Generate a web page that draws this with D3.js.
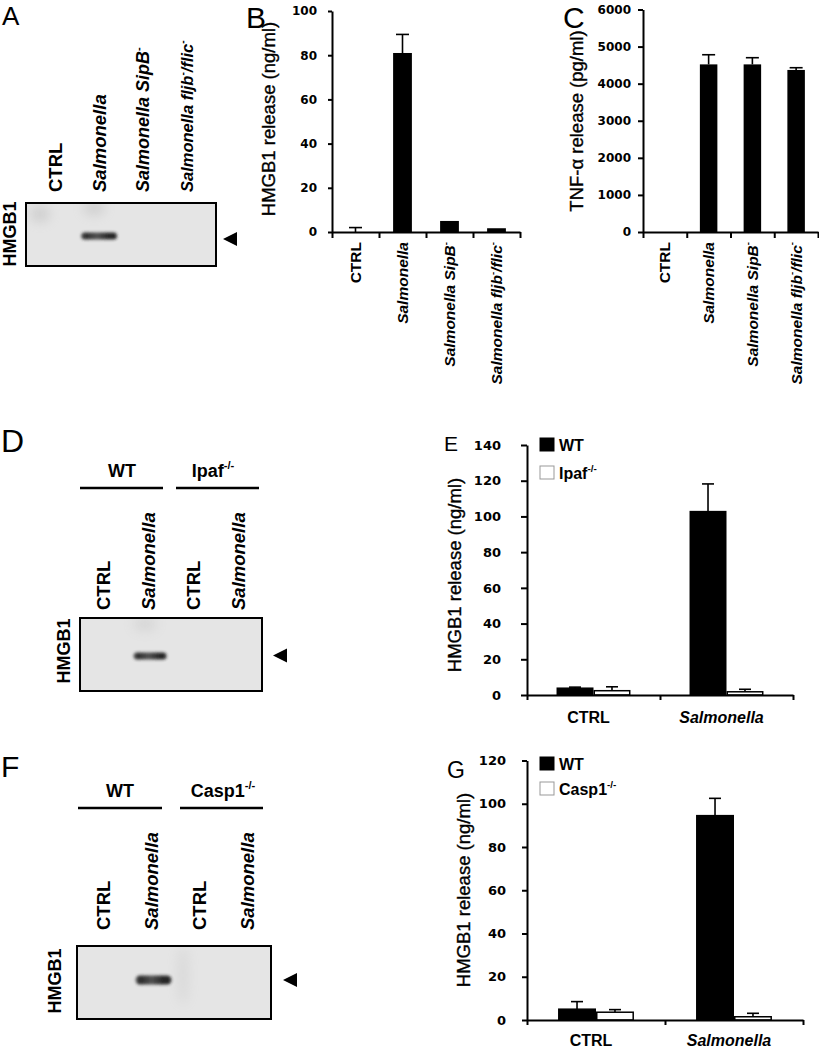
<!DOCTYPE html>
<html><head><meta charset="utf-8">
<script src="https://cdn.jsdelivr.net/npm/d3@7"></script>
<style>
body{margin:0;background:#fff}
svg{display:block}
text{font-family:"Liberation Sans",Arial,Helvetica,sans-serif}
g.tick text{font-family:"DejaVu Sans",Verdana,sans-serif}
</style>
</head><body>
<svg id="fig" width="819" height="1050"></svg>
<script>
// ---------------- DATA ----------------
// Panel A (western blot)
const blotALanes = ["CTRL", "<i>Salmonella</i>", "<i>Salmonella SipB</i><sup>-</sup>", "<i>Salmonella fljb</i><sup>-</sup><i>/flic</i><sup>-</sup>"];
const blotABands = [0, 1, 0, 0];
// Panel B
const bCategories = ["CTRL", "<i>Salmonella</i>", "<i>Salmonella SipB</i><sup>-</sup>", "<i>Salmonella fljb</i><sup>-</sup><i>/flic</i><sup>-</sup>"];
const bValues = [0, 81, 5, 1.7];
const bErrors = [2, 8.4, 0, 0];
const bTicks = [0, 20, 40, 60, 80, 100];
// Panel C
const cCategories = bCategories;
const cValues = [0, 4520, 4520, 4370];
const cErrors = [0, 260, 180, 60];
const cTicks = [0, 1000, 2000, 3000, 4000, 5000, 6000];
// Panel D (blot)
const blotDGroups = ["WT", "Ipaf<sup>-/-</sup>"];
const blotDLanes = ["CTRL", "<i>Salmonella</i>", "CTRL", "<i>Salmonella</i>"];
const blotDBands = [0, 1, 0, 0];
// Panel E
const eGroups = ["CTRL", "<i>Salmonella</i>"];
const eSeries = ["WT", "Ipaf<sup>-/-</sup>"];
const eWT = [3.8, 102.7];
const eWTErr = [0.6, 15.5];
const eKO = [2.4, 1.8];
const eKOErr = [2.2, 1.4];
const eTicks = [0, 20, 40, 60, 80, 100, 120, 140];
// Panel F (blot)
const blotFGroups = ["WT", "Casp1<sup>-/-</sup>"];
const blotFLanes = ["CTRL", "<i>Salmonella</i>", "CTRL", "<i>Salmonella</i>"];
const blotFBands = [0, 1, 0, 0];
// Panel G
const gGroups = ["CTRL", "<i>Salmonella</i>"];
const gSeries = ["WT", "Casp1<sup>-/-</sup>"];
const gWT = [5, 94.5];
const gWTErr = [3.5, 8];
const gKO = [3.6, 1.5];
const gKOErr = [1.2, 1.6];
const gTicks = [0, 20, 40, 60, 80, 100, 120];

// ---------------- HELPERS ----------------
const svg = d3.select("#fig");
const defs = svg.append("defs");
defs.append("filter").attr("id","blurBand").attr("x","-50%").attr("y","-100%").attr("width","200%").attr("height","300%")
  .append("feGaussianBlur").attr("stdDeviation", 1.4);
defs.append("filter").attr("id","blurSmudge").attr("x","-100%").attr("y","-100%").attr("width","300%").attr("height","300%")
  .append("feGaussianBlur").attr("stdDeviation", 6);
const grad = defs.append("linearGradient").attr("id", "bandGrad").attr("x1", "0").attr("x2", "1").attr("y1", "0").attr("y2", "0");
[[0, "#555"], [0.12, "#1a1a1a"], [0.45, "#444"], [0.8, "#111"], [1, "#222"]].forEach(s =>
  grad.append("stop").attr("offset", s[0]).attr("stop-color", s[1]));

function rich(sel, str, size) {
  const parts = str.split(/(<i>.*?<\/i>|<sup>.*?<\/sup>)/).filter(s => s.length);
  let back = 0;
  parts.forEach(p => {
    let t = p, italic = false, sup = false;
    if (p.startsWith("<i>")) { t = p.slice(3, -4); italic = true; }
    else if (p.startsWith("<sup>")) { t = p.slice(5, -6); sup = true; }
    const ts = sel.append("tspan").text(t);
    if (italic) ts.attr("font-style", "italic");
    if (sup) { ts.attr("font-size", size * 0.62).attr("dy", -size * 0.42); back += size * 0.42; }
    else if (back) { ts.attr("dy", back); back = 0; }
  });
  return sel;
}

function panelLetter(t, x, y, size) {
  svg.append("text").attr("x", x).attr("y", y).attr("font-size", size).attr("fill", "#000").text(t);
}

function yTitle(str, x, y, size) {
  const t = svg.append("text").attr("transform", `translate(${x},${y}) rotate(-90)`)
    .attr("text-anchor", "middle").attr("font-size", size).attr("fill", "#000")
    .attr("stroke", "#000").attr("stroke-width", 0.35);
  rich(t, str, size);
}

function styleAxis(g, fs) {
  g.selectAll("path.domain").attr("stroke", "#000").attr("stroke-width", 2);
  g.selectAll(".tick line").attr("stroke", "#000").attr("stroke-width", 2);
  g.selectAll(".tick text").attr("font-size", fs).attr("font-weight", "bold").attr("fill", "#000")
    .style("font-family", '"DejaVu Sans",Verdana,sans-serif');
}

function errBar(g, cx, yTop, yErr, capW) {
  g.append("line").attr("x1", cx).attr("x2", cx).attr("y1", yTop).attr("y2", yErr).attr("stroke", "#000").attr("stroke-width", 1.6);
  g.append("line").attr("x1", cx - capW / 2).attr("x2", cx + capW / 2).attr("y1", yErr).attr("y2", yErr).attr("stroke", "#000").attr("stroke-width", 1.6);
}

// single-series bar chart (B, C)
function simpleBars(o) {
  const g = svg.append("g");
  const y = d3.scaleLinear().domain(o.domain).range(o.yRange);
  const x = d3.scaleBand().domain(d3.range(o.cats.length)).range(o.xRange).paddingInner(0.6).paddingOuter(0.3);
  const bw = x.bandwidth();
  o.values.forEach((v, i) => {
    const cx = x(i) + bw / 2;
    if (o.errors[i] > 0) errBar(g, cx, y(v), y(v + o.errors[i]), 13);
  });
  g.selectAll("rect.bar").data(o.values).join("rect").attr("class", "bar")
    .attr("x", (d, i) => x(i)).attr("width", bw)
    .attr("y", d => y(d)).attr("height", d => y(0) - y(d)).attr("fill", "#000");
  const ya = g.append("g").attr("transform", `translate(${o.xRange[0]},0)`)
    .call(d3.axisLeft(y).tickValues(o.ticks).tickSize(o.tickSize).tickSizeOuter(0).tickPadding(o.tickPad).tickFormat(d3.format("d")));
  styleAxis(ya, o.tickFont);
  const xb = d3.scaleLinear().domain([0, o.cats.length]).range(o.xRange);
  const xa = g.append("g").attr("transform", `translate(0,${o.yRange[0]})`)
    .call(d3.axisBottom(xb).tickValues(d3.range(o.cats.length + 1)).tickSize(6).tickSizeOuter(0).tickFormat(""));
  styleAxis(xa, 12);
  o.cats.forEach((c, i) => {
    const cx = x(i) + bw / 2;
    const t = g.append("text").attr("transform", `translate(${cx + 5.5},${o.yRange[0] + 10}) rotate(-90)`)
      .attr("text-anchor", "end").attr("font-size", 15.5).attr("font-weight", "bold");
    rich(t, c, 15.5);
  });
}

// grouped bar chart (E, G)
function groupedBars(o) {
  const g = svg.append("g");
  const y = d3.scaleLinear().domain(o.domain).range(o.yRange);
  const x0 = d3.scaleBand().domain(d3.range(o.groups.length)).range(o.xRange).paddingInner(o.pad).paddingOuter(o.pad / 2);
  const x1 = d3.scaleBand().domain([0, 1]).range([0, x0.bandwidth()]);
  const bw = x1.bandwidth();
  const series = [{v: o.wt, e: o.wtErr, fill: "#000"}, {v: o.ko, e: o.koErr, fill: "#fff"}];
  series.forEach((s, si) => {
    s.v.forEach((v, i) => {
      const bx = x0(i) + x1(si);
      errBar(g, bx + bw / 2, y(v), y(v + s.e[i]), 12);
    });
    g.selectAll(null).data(s.v).join("rect")
      .attr("x", (d, i) => x0(i) + x1(si) + 0.75).attr("width", bw - 1.5)
      .attr("y", d => y(d)).attr("height", d => y(0) - y(d))
      .attr("fill", s.fill).attr("stroke", "#000").attr("stroke-width", 1.5);
  });
  const ya = g.append("g").attr("transform", `translate(${o.xRange[0]},0)`)
    .call(d3.axisLeft(y).tickValues(o.ticks).tickSize(o.tickSize).tickSizeOuter(0).tickPadding(o.tickPad).tickFormat(d3.format("d")));
  styleAxis(ya, o.tickFont);
  const xb = d3.scaleLinear().domain([0, o.groups.length]).range(o.xRange);
  const xa = g.append("g").attr("transform", `translate(0,${o.yRange[0]})`)
    .call(d3.axisBottom(xb).tickValues(d3.range(o.groups.length + 1)).tickSize(5).tickSizeOuter(0).tickFormat(""));
  styleAxis(xa, 12);
  o.groups.forEach((c, i) => {
    const t = g.append("text").attr("x", x0(i) + x0.bandwidth() / 2 - 5).attr("y", o.catY)
      .attr("text-anchor", "middle").attr("font-size", 16).attr("font-weight", "bold");
    rich(t, c, 16);
  });
  // legend
  o.series.forEach((s, si) => {
    const ly = o.legY + si * o.legStep;
    g.append("rect").attr("x", o.legX).attr("y", ly).attr("width", 14).attr("height", 13)
      .attr("fill", si ? "#fff" : "#000").attr("stroke", si ? "#999" : "#000").attr("stroke-width", 1);
    const t = g.append("text").attr("x", o.legX + 19).attr("y", ly + 13).attr("font-size", 16).attr("font-weight", "bold");
    rich(t, s, 16);
  });
}

// western blot
function blot(o) {
  const g = svg.append("g");
  const lx = d3.scalePoint().domain(d3.range(o.lanes.length)).range(o.laneRange);
  if (o.groups) {
    o.groups.forEach((gr, gi) => {
      const t = g.append("text").attr("x", o.groupX[gi]).attr("y", o.groupY).attr("text-anchor", "middle")
        .attr("font-size", 18).attr("font-weight", "bold");
      rich(t, gr, 18);
      g.append("line").attr("x1", o.groupLines[gi][0]).attr("x2", o.groupLines[gi][1])
        .attr("y1", o.groupY + 11).attr("y2", o.groupY + 11).attr("stroke", "#000").attr("stroke-width", 2.5);
    });
  }
  o.lanes.forEach((l, i) => {
    const fs = o.laneSize[i];
    const t = g.append("text").attr("transform", `translate(${lx(i) + fs * 0.36},${o.laneBottom}) rotate(-90)`)
      .attr("font-size", fs).attr("font-weight", "bold");
    rich(t, l, fs);
  });
  const clipId = "clip" + Math.round(o.box[1]);
  defs.append("clipPath").attr("id", clipId).append("rect")
    .attr("x", o.box[0]).attr("y", o.box[1]).attr("width", o.box[2]).attr("height", o.box[3]);
  g.append("rect").attr("x", o.box[0]).attr("y", o.box[1]).attr("width", o.box[2]).attr("height", o.box[3]).attr("fill", "#e5e5e5");
  const inner = g.append("g").attr("clip-path", `url(#${clipId})`);
  o.smudges.forEach(s => inner.append("ellipse").attr("cx", s[0]).attr("cy", s[1]).attr("rx", s[2]).attr("ry", s[3])
    .attr("fill", "#999").attr("opacity", s[4]).attr("filter", "url(#blurSmudge)"));
  o.bands.forEach((b, i) => {
    if (b > 0) {
      const cx = lx(i) + o.bandShift;
      inner.append("rect").attr("x", cx - o.bandW / 2).attr("y", o.bandY - o.bandH / 2)
        .attr("width", o.bandW).attr("height", o.bandH).attr("rx", o.bandH / 2)
        .attr("fill", "url(#bandGrad)").attr("opacity", 0.92 * b).attr("filter", "url(#blurBand)");
    }
  });
  g.append("rect").attr("x", o.box[0]).attr("y", o.box[1]).attr("width", o.box[2]).attr("height", o.box[3])
    .attr("fill", "none").attr("stroke", "#000").attr("stroke-width", 2);
  const ax = o.arrow[0], ay = o.arrow[1];
  g.append("path").attr("d", `M${ax},${ay} L${ax + 14},${ay - 7} L${ax + 14},${ay + 7} Z`).attr("fill", "#000");
  g.append("text").attr("transform", `translate(${o.hmgb[0]},${o.hmgb[1]}) rotate(-90)`)
    .attr("text-anchor", "middle").attr("font-size", 18).attr("font-weight", "bold").text("HMGB1");
}

// ---------------- PANELS ----------------
// A
panelLetter("A", 2, 25, 26);
blot({lanes: blotALanes, laneRange: [55, 187], laneBottom: 192, laneSize: [18.5, 18.5, 18, 16.5],
  box: [26, 203, 190, 63], bands: blotABands, bandShift: 0, bandW: 36, bandH: 7, bandY: 236,
  smudges: [[40, 214, 10, 8, 0.3], [94, 208, 11, 7, 0.3]], arrow: [223, 239], hmgb: [16, 234]});

// B
panelLetter("B", 246, 27.5, 30);
simpleBars({cats: bCategories, values: bValues, errors: bErrors, ticks: bTicks, domain: [0, 100],
  yRange: [232, 11], xRange: [332, 520], tickSize: 4, tickPad: 11, tickFont: 12});
yTitle("HMGB1 release (ng/ml)", 275, 119, 18.5);

// C
panelLetter("C", 563, 27.5, 30);
simpleBars({cats: cCategories, values: cValues, errors: cErrors, ticks: cTicks, domain: [0, 6000],
  yRange: [232, 9.5], xRange: [643, 818], tickSize: 5, tickPad: 7, tickFont: 12});
yTitle("TNF-α release (pg/ml)", 583, 121, 18.5);

// D
panelLetter("D", 1, 452, 32);
blot({groups: blotDGroups, groupX: [122, 213], groupY: 477, groupLines: [[80, 163], [176, 259]],
  lanes: blotDLanes, laneRange: [103, 238], laneBottom: 610, laneSize: [18.5, 18.5, 18.5, 18.5],
  box: [80, 618, 182, 73], bands: blotDBands, bandShift: 2, bandW: 33, bandH: 7, bandY: 656,
  smudges: [[145, 624, 12, 7, 0.2]], arrow: [273, 655.5], hmgb: [70, 651]});

// E
panelLetter("E", 444, 451, 21);
groupedBars({groups: eGroups, series: eSeries, wt: eWT, wtErr: eWTErr, ko: eKO, koErr: eKOErr,
  ticks: eTicks, domain: [0, 140], yRange: [695, 445], xRange: [527, 793], pad: 0.444,
  tickSize: 6, tickPad: 20, tickFont: 13, catY: 723, legX: 540, legY: 438, legStep: 28});
yTitle("HMGB1 release (ng/ml)", 461, 575, 18.5);

// F
panelLetter("F", 1, 777, 30);
blot({groups: blotFGroups, groupX: [120, 223], groupY: 797, groupLines: [[78, 162], [180, 263]],
  lanes: blotFLanes, laneRange: [103, 247], laneBottom: 930, laneSize: [18.5, 18.5, 18.5, 18.5],
  box: [77, 946, 194, 73], bands: blotFBands, bandShift: 2.5, bandW: 36, bandH: 9, bandY: 980,
  smudges: [[183, 975, 6, 30, 0.15]], arrow: [283, 980], hmgb: [61, 981]});

// G
panelLetter("G", 447, 778, 23);
groupedBars({groups: gGroups, series: gSeries, wt: gWT, wtErr: gWTErr, ko: gKO, koErr: gKOErr,
  ticks: gTicks, domain: [0, 120], yRange: [1020, 760.5], xRange: [527, 803], pad: 0.45,
  tickSize: 5, tickPad: 16, tickFont: 13, catY: 1046, legX: 540, legY: 757, legStep: 25});
yTitle("HMGB1 release (ng/ml)", 470, 890, 18.5);
</script>
</body></html>
